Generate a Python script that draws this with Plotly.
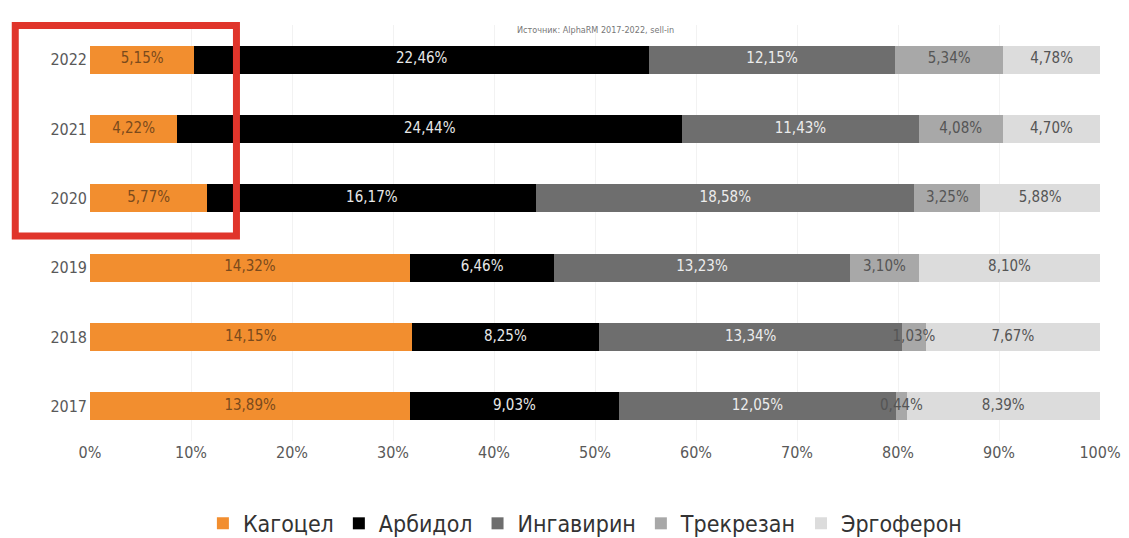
import plotly.graph_objects as go

# Market share by year (sell-in, AlphaRM), each row normalised to 100%
years = ["2017", "2018", "2019", "2020", "2021", "2022"]
kagocel = [13.89, 14.15, 14.32, 5.77, 4.22, 5.15]
arbidol = [9.03, 8.25, 6.46, 16.17, 24.44, 22.46]
ingavirin = [12.05, 13.34, 13.23, 18.58, 11.43, 12.15]
trekrezan = [0.44, 1.03, 3.10, 3.25, 4.08, 5.34]
ergoferon = [8.39, 7.67, 8.10, 5.88, 4.70, 4.78]

x_ticks = [0, 10, 20, 30, 40, 50, 60, 70, 80, 90, 100]

FONT = "DejaVu Sans Condensed, Liberation Sans Narrow, Liberation Sans, sans-serif"

series = [
    ("Кагоцел", kagocel, "#F28E2F", "#7a4a1c"),
    ("Арбидол", arbidol, "#000000", "#e8e8e8"),
    ("Ингавирин", ingavirin, "#6e6e6e", "#ececec"),
    ("Трекрезан", trekrezan, "#a8a8a8", "#555555"),
    ("Эргоферон", ergoferon, "#dcdcdc", "#555555"),
]


def fmt(v):
    return f"{v:.2f}%".replace(".", ",")


totals = [sum(s[1][i] for s in series) for i in range(len(years))]

fig = go.Figure()
for name, vals, color, txt_color in series:
    fig.add_trace(
        go.Bar(
            name=name,
            y=years,
            x=vals,
            orientation="h",
            marker_color=color,
            marker_line_width=0,
            width=0.4,
            hoverinfo="skip",
        )
    )

# Labels drawn on top of all bars so short segments can overflow
cum = [0.0] * len(years)
for name, vals, color, txt_color in series:
    mids = []
    for i, v in enumerate(vals):
        share = v / totals[i] * 100
        mids.append(cum[i] + share / 2)
        cum[i] += share
    fig.add_trace(
        go.Scatter(
            x=mids,
            y=years,
            mode="text",
            text=[fmt(v) for v in vals],
            textposition="middle center",
            textfont=dict(family=FONT, size=15, color=txt_color),
            showlegend=False,
            hoverinfo="skip",
        )
    )

fig.update_layout(
    barmode="stack",
    barnorm="percent",
    width=1121,
    height=530,
    margin=dict(t=17, b=97, l=82, r=29, autoexpand=False),
    paper_bgcolor="white",
    plot_bgcolor="white",
    font=dict(family=FONT, color="#595959"),
    showlegend=True,
    legend=dict(
        orientation="h",
        x=0.49,
        xanchor="center",
        y=-0.198,
        yanchor="middle",
        font=dict(family=FONT, size=23, color="#333333"),
        itemwidth=30,
        traceorder="normal",
    ),
    xaxis=dict(
        range=[0, 100],
        tickvals=x_ticks,
        ticktext=[f"{t}%" for t in x_ticks],
        tickfont=dict(family=FONT, size=16, color="#595959"),
        showgrid=True,
        gridcolor="#f2f2f2",
        zeroline=False,
        ticks="",
        ticklabelstandoff=0,
        automargin=False,
    ),
    yaxis=dict(
        categoryorder="array",
        categoryarray=years,
        tickfont=dict(family=FONT, size=16, color="#595959"),
        showgrid=False,
        ticks="",
        ticklabelstandoff=2,
        automargin=False,
    ),
    annotations=[
        dict(
            text="Источник: AlphaRM 2017-2022, sell-in",
            xref="paper",
            yref="paper",
            x=0.5,
            y=0.989,
            xanchor="center",
            yanchor="middle",
            showarrow=False,
            font=dict(family=FONT, size=9, color="#777777"),
        )
    ],
    shapes=[
        dict(
            type="rect",
            xref="paper",
            yref="paper",
            x0=-0.074,
            x1=0.145,
            y0=0.493,
            y1=0.999,
            line=dict(color="#E0352B", width=7),
        )
    ],
)

fig.write_html("out.html")
